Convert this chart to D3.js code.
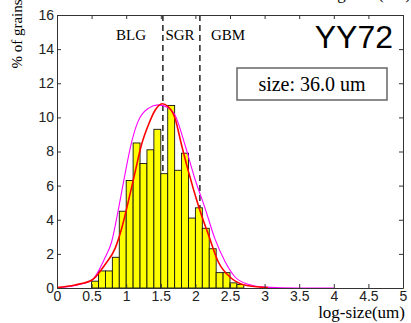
<!DOCTYPE html>
<html>
<head>
<meta charset="utf-8">
<script src="https://cdn.jsdelivr.net/npm/d3@7"></script>
<style>
  body { margin: 0; background: #fff; }
  svg { display: block; }
</style>
</head>
<body>
<div id="chart"></div>
<script>
// histogram of grain sizes (log-size, bin width 0.1)
var binStart = [0.5, 0.6, 0.7, 0.8, 0.9, 1.0, 1.1, 1.2, 1.3, 1.4, 1.5, 1.6, 1.7, 1.8, 1.9, 2.0, 2.1, 2.2, 2.3, 2.4, 2.5, 2.6];
var pct = [0.4, 1.0, 1.0, 1.8, 4.5, 6.3, 8.5, 7.3, 8.1, 9.3, 6.7, 10.7, 6.9, 7.9, 4.1, 4.7, 3.5, 2.3, 0.9, 0.9, 0.3, 0.2];
var binWidth = 0.1;

// fitted curves
var redX = [0, 0.26, 0.5, 0.69, 0.84, 0.935, 1.03, 1.13, 1.22, 1.32, 1.42, 1.52, 1.6, 1.705, 1.8, 1.9, 2.04, 2.19, 2.33, 2.52, 2.76, 3.05];
var redY = [0.02, 0.18, 0.45, 1.35, 2.32, 3.5, 5.06, 6.82, 8.38, 9.55, 10.43, 10.8, 10.65, 9.95, 8.38, 6.82, 4.87, 3.1, 1.54, 0.57, 0.13, 0.02];
var magX = [0, 0.26, 0.5, 0.69, 0.79, 0.89, 0.98, 1.08, 1.17, 1.32, 1.46, 1.61, 1.705, 1.85, 1.99, 2.14, 2.28, 2.43, 2.57, 2.76, 3.0, 3.5, 4.0];
var magY = [0.02, 0.15, 0.45, 1.74, 2.71, 4.67, 6.62, 8.58, 9.75, 10.53, 10.73, 10.57, 10.14, 8.38, 6.43, 4.67, 2.91, 1.54, 0.66, 0.22, 0.05, 0, 0];

var boundaries = [1.53, 2.065];
var regimes = ["BLG", "SGR", "GBM"];
var xTicks = [0, 0.5, 1, 1.5, 2, 2.5, 3, 3.5, 4, 4.5, 5];
var yTicks = [0, 2, 4, 6, 8, 10, 12, 14, 16];

var W = 411, H = 323;
var mLeft = 57, mRight = 403, mTop = 15, mBottom = 288;

var svg = d3.select("#chart").append("svg")
  .attr("width", W)
  .attr("height", H);

var x = d3.scaleLinear().domain([0, 5]).range([mLeft, mRight]);
var y = d3.scaleLinear().domain([0, 16]).range([mBottom, mTop]);

var serif = "Liberation Serif, Times New Roman, serif";
var sans = "Liberation Sans, Arial, sans-serif";

// cut-off label of the panel above
svg.append("text")
  .attr("x", 411).attr("y", -1)
  .attr("text-anchor", "end")
  .style("font-family", serif)
  .style("font-size", "17px")
  .text("log-size(um)");

// regime boundaries (drawn under the bars)
svg.selectAll("line.bound")
  .data(boundaries)
  .enter().append("line")
  .attr("class", "bound")
  .attr("x1", function (d) { return x(d); })
  .attr("x2", function (d) { return x(d); })
  .attr("y1", y(16))
  .attr("y2", y(0))
  .attr("stroke", "#222")
  .attr("stroke-width", 1.5)
  .attr("stroke-dasharray", "6,4");

// bars
svg.selectAll("rect.bar")
  .data(pct)
  .enter().append("rect")
  .attr("class", "bar")
  .attr("x", function (d, i) { return x(binStart[i]); })
  .attr("y", function (d) { return y(d); })
  .attr("width", function (d, i) { return x(binStart[i] + binWidth) - x(binStart[i]); })
  .attr("height", function (d) { return y(0) - y(d); })
  .attr("fill", "#ffff00")
  .attr("stroke", "#111")
  .attr("stroke-width", 0.9);

function curve(xs, ys, color, w) {
  var line = d3.line()
    .x(function (d) { return x(d[0]); })
    .y(function (d) { return y(d[1]); })
    .curve(d3.curveMonotoneX);
  svg.append("path")
    .datum(d3.zip(xs, ys))
    .attr("d", line)
    .attr("fill", "none")
    .attr("stroke", color)
    .attr("stroke-width", w);
}
curve(magX, magY, "#ff00ff", 1.1);
curve(redX, redY, "#ff0000", 1.6);

// axes box with inward ticks on all sides
var xAxis = svg.append("g")
  .attr("transform", "translate(0," + mBottom + ")")
  .call(d3.axisBottom(x).tickValues(xTicks).tickSizeInner(-4).tickSizeOuter(0)
    .tickFormat(function (d) { return d; }));
var xTop = svg.append("g")
  .attr("transform", "translate(0," + mTop + ")")
  .call(d3.axisTop(x).tickValues(xTicks).tickSizeInner(-4).tickSizeOuter(0).tickFormat(""));
var yAxis = svg.append("g")
  .attr("transform", "translate(" + mLeft + ",0)")
  .call(d3.axisLeft(y).tickValues(yTicks).tickSizeInner(-4).tickSizeOuter(0));
var yRight = svg.append("g")
  .attr("transform", "translate(" + mRight + ",0)")
  .call(d3.axisRight(y).tickValues(yTicks).tickSizeInner(-4).tickSizeOuter(0).tickFormat(""));

[xAxis, xTop, yAxis, yRight].forEach(function (g) {
  g.select(".domain").attr("stroke", "#333").attr("stroke-width", 1);
  g.selectAll(".tick line").attr("stroke", "#333");
  g.selectAll("text")
    .style("font-family", sans)
    .style("font-size", "14px")
    .attr("fill", "#222");
});
xAxis.selectAll("text").attr("y", 3).attr("dy", "0.71em");
yAxis.selectAll("text").attr("x", -3);

// regime labels
var labX = [131, 180, 228];
svg.selectAll("text.reg")
  .data(regimes)
  .enter().append("text")
  .attr("class", "reg")
  .attr("x", function (d, i) { return labX[i]; })
  .attr("y", 40)
  .attr("text-anchor", "middle")
  .style("font-family", serif)
  .style("font-size", "15px")
  .text(function (d) { return d; });

// sample name
svg.append("text")
  .attr("x", 393).attr("y", 48)
  .attr("text-anchor", "end")
  .style("font-family", sans)
  .style("font-size", "32px")
  .text("YY72");

// size box
svg.append("rect")
  .attr("x", 237).attr("y", 68)
  .attr("width", 150).attr("height", 32)
  .attr("fill", "#fff")
  .attr("stroke", "#666")
  .attr("stroke-width", 1.5);
svg.append("text")
  .attr("x", 312).attr("y", 91)
  .attr("text-anchor", "middle")
  .style("font-family", serif)
  .style("font-size", "20px")
  .text("size: 36.0 um");

// axis titles
svg.append("text")
  .attr("x", 405).attr("y", 318)
  .attr("text-anchor", "end")
  .style("font-family", serif)
  .style("font-size", "17px")
  .text("log-size(um)");
svg.append("text")
  .attr("transform", "translate(22,34) rotate(-90)")
  .attr("text-anchor", "middle")
  .style("font-family", serif)
  .style("font-size", "15px")
  .text("% of grains");
</script>
</body>
</html>
